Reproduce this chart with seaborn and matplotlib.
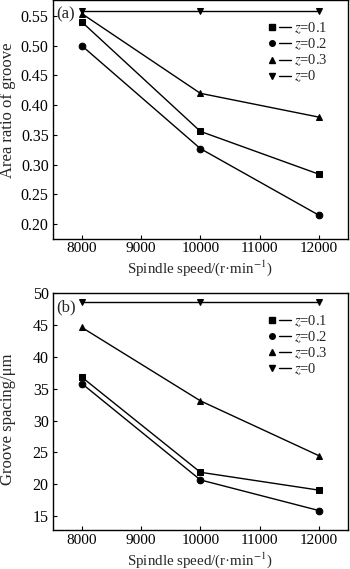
import matplotlib
matplotlib.use("Agg")
import matplotlib.pyplot as plt
from matplotlib.lines import Line2D
from matplotlib.legend_handler import HandlerTuple
from matplotlib.ticker import FormatStrFormatter
import seaborn as sns

# data
speed = [8000, 10000, 12000]
labels = ["0.1", "0.2", "0.3", "0"]
markers = ["s", "o", "^", "v"]

area_z01 = [0.540, 0.356, 0.284]
area_z02 = [0.500, 0.327, 0.215]
area_z03 = [0.554, 0.420, 0.380]
area_z0 = [0.558, 0.558, 0.558]

spacing_z01 = [36.8, 21.9, 19.1]
spacing_z02 = [35.8, 20.7, 15.9]
spacing_z03 = [44.6, 33.1, 24.5]
spacing_z0 = [48.6, 48.6, 48.6]

area = [area_z01, area_z02, area_z03, area_z0]
spacing = [spacing_z01, spacing_z02, spacing_z03, spacing_z0]

area_ticks = [0.20, 0.25, 0.30, 0.35, 0.40, 0.45, 0.50, 0.55]
spacing_ticks = [15, 20, 25, 30, 35, 40, 45, 50]

sns.set_style("ticks")
plt.rcParams['font.family'] = ['Liberation Serif', 'DejaVu Serif']
plt.rcParams['mathtext.fontset'] = 'stix'
plt.rcParams['font.size'] = 10

fig = plt.figure(figsize=(3.5, 5.69), dpi=100)
ax_a = fig.add_axes([0.151, 0.58, 0.843, 0.42])
ax_b = fig.add_axes([0.151, 0.068, 0.843, 0.417])


def draw(ax, series, ylim, yticks, ylabel, ylabel_y, tag, fmt):
    for vals, m in zip(series, markers):
        sns.lineplot(x=speed, y=vals, ax=ax, color='k', lw=1.0, marker=m,
                     markersize=4.8, markeredgecolor='k', legend=False)
    ax.set_xlim(7510, 12490)
    ax.set_ylim(*ylim)
    ax.set_xticks([8000, 9000, 10000, 11000, 12000])
    ax.set_yticks(yticks)
    ax.yaxis.set_major_formatter(FormatStrFormatter(fmt))
    ax.tick_params(direction='in', length=3, width=0.8, labelsize=11.5,
                   colors='k', pad=3)
    ax.tick_params(axis='x', labelsize=11, pad=2.5)
    for s in ax.spines.values():
        s.set_linewidth(1.0)
        s.set_color('k')
    ax.set_xlabel("Spindle speed/(r·min$^{-1}$)", fontsize=10.8)
    ax.xaxis.set_label_coords(0.5, -0.083)
    ax.set_ylabel(ylabel, fontsize=12)
    ax.yaxis.set_label_coords(-0.125, ylabel_y)
    ax.text(0.012, 0.94, tag, transform=ax.transAxes, fontsize=12,
            va='center', ha='left')
    handles = []
    for m in markers:
        handles.append((Line2D([], [], marker=m, ls='none', color='k', markersize=4),
                        Line2D([], [], ls='-', color='k', lw=1.0)))
    ax.legend(handles, ["$z$=" + l for l in labels], loc='upper right',
              bbox_to_anchor=(0.95, 0.937), frameon=False, fontsize=10.5,
              handlelength=1.7, handletextpad=0.2, labelspacing=0.05,
              borderaxespad=0, handler_map={tuple: HandlerTuple(ndivide=None, pad=0.1)})


draw(ax_a, area, (0.175, 0.577), area_ticks, "Area ratio of groove", 0.54, "(a)", "%.2f")
draw(ax_b, spacing, (12.8, 50.0), spacing_ticks, "Groove spacing/μm", 0.466, "(b)", "%d")

fig.savefig("out.png", dpi=100)
